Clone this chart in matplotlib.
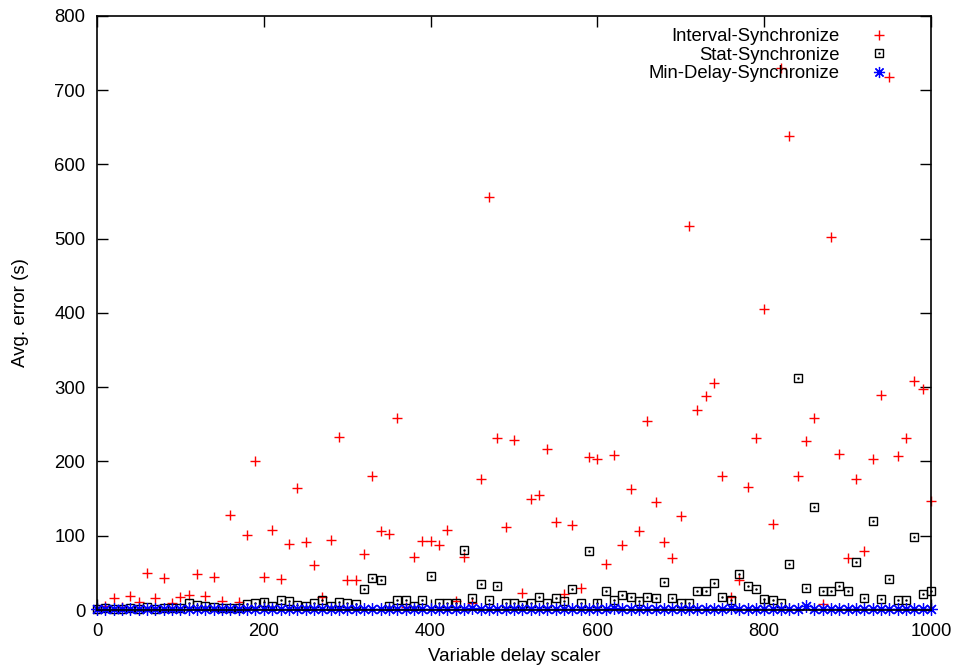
import matplotlib
matplotlib.use("Agg")
import matplotlib.pyplot as plt
from matplotlib.lines import Line2D
from matplotlib.legend_handler import HandlerTuple

plt.rcParams['font.family'] = ['Liberation Sans', 'DejaVu Sans']

# x positions: variable delay scaler, one sample every 10
delay = list(range(0, 1001, 10))

interval_sync = [
    2, 6, 16, 4, 19, 11, 50, 16, 43, 9,
    18, 20, 48, 19, 45, 12, 128, 11, 101, 200,
    45, 108, 42, 89, 164, 91, 61, 18, 94, 233,
    40, 41, 75, 180, 106, 103, 258, 4, 72, 93,
    93, 88, 108, 12, 72, 10, 177, 556, 231, 112,
    229, 23, 150, 155, 217, 118, 21, 114, 29, 206,
    204, 62, 209, 88, 163, 106, 255, 145, 92, 70,
    127, 517, 270, 288, 306, 181, 18, 41, 166, 232,
    406, 116, 730, 638, 181, 227, 258, 8, 503, 210,
    70, 177, 80, 203, 289, 718, 207, 231, 309, 298,
    147,
]

stat_sync = [
    2, 3, 1, 2, 3, 2, 4, 1, 3, 3,
    3, 10, 7, 5, 4, 3, 3, 3, 8, 9,
    11, 6, 13, 12, 7, 5, 10, 13, 6, 11,
    10, 8, 28, 43, 40, 6, 13, 13, 6, 13,
    46, 9, 9, 9, 81, 16, 35, 14, 33, 9,
    9, 7, 9, 18, 9, 16, 12, 28, 9, 80,
    10, 26, 13, 20, 18, 12, 18, 16, 38, 16,
    10, 10, 26, 25, 36, 17, 13, 48, 33, 28,
    15, 13, 9, 62, 312, 30, 139, 25, 26, 33,
    26, 64, 16, 120, 15, 42, 14, 14, 98, 22,
    26,
]

min_delay_sync = [
    1, 2, 1, 1, 2, 1, 1, 2, 1, 1,
    2, 1, 1, 2, 1, 1, 1, 2, 1, 1,
    1, 1, 2, 1, 1, 1, 2, 1, 1, 1,
    1, 1, 2, 1, 2, 1, 1, 1, 2, 1,
    1, 1, 1, 2, 1, 3, 1, 1, 1, 1,
    1, 1, 2, 1, 1, 1, 1, 1, 1, 1,
    2, 1, 3, 1, 1, 1, 1, 1, 1, 1,
    1, 1, 1, 2, 1, 1, 3, 1, 1, 1,
    1, 1, 1, 1, 1, 5, 1, 1, 1, 1,
    1, 1, 1, 1, 2, 1, 1, 1, 1, 1,
    1,
]

fig = plt.figure(figsize=(9.58, 6.71), dpi=100)
ax = fig.add_axes([0.1013, 0.0909, 0.8705, 0.8853])

ax.plot(delay, interval_sync, linestyle='none', marker='+', color='red',
        markersize=7, markeredgewidth=1.0, clip_on=False)
ax.plot(delay, stat_sync, linestyle='none', marker='s', markerfacecolor='none',
        markeredgecolor='black', markersize=6, markeredgewidth=1.0, clip_on=False)
ax.plot(delay, stat_sync, linestyle='none', marker='.', color='black',
        markersize=1.5, clip_on=False)
ax.plot(delay, min_delay_sync, linestyle='none', marker=(8, 2, 0), color='blue',
        markersize=9, markeredgewidth=0.9, clip_on=False)

ax.set_xlim(0, 1000)
ax.set_ylim(0, 800)
ax.set_xticks(range(0, 1001, 200))
ax.set_yticks(range(0, 801, 100))
ax.tick_params(direction='in', length=8, width=1.0, top=True, right=True,
               labelsize=13.3)
ax.tick_params(axis='y', pad=8.5)
ax.tick_params(axis='x', pad=9)
for sp in ax.spines.values():
    sp.set_linewidth(1.2)

ax.set_xlabel('Variable delay scaler', fontsize=13.5, labelpad=6)
ax.set_ylabel('Avg. error (s)', fontsize=13.5, labelpad=18)

h_int = Line2D([], [], linestyle='none', marker='+', color='red',
               markersize=7, markeredgewidth=1.0)
h_stat = (Line2D([], [], linestyle='none', marker='s', markerfacecolor='none',
                 markeredgecolor='black', markersize=6, markeredgewidth=1.0),
          Line2D([], [], linestyle='none', marker='.', color='black', markersize=1.5))
h_min = Line2D([], [], linestyle='none', marker=(8, 2, 0), color='blue',
               markersize=8, markeredgewidth=0.9)

ax.legend([h_int, h_stat, h_min],
          ['Interval-Synchronize', 'Stat-Synchronize', 'Min-Delay-Synchronize'],
          handler_map={tuple: HandlerTuple(ndivide=1)},
          loc='upper right', bbox_to_anchor=(0.968, 0.998), frameon=False,
          markerfirst=False, fontsize=13.3, labelspacing=0.08,
          handlelength=1.5, handletextpad=1.41, borderaxespad=0.2)

fig.savefig('out.png', dpi=100)
